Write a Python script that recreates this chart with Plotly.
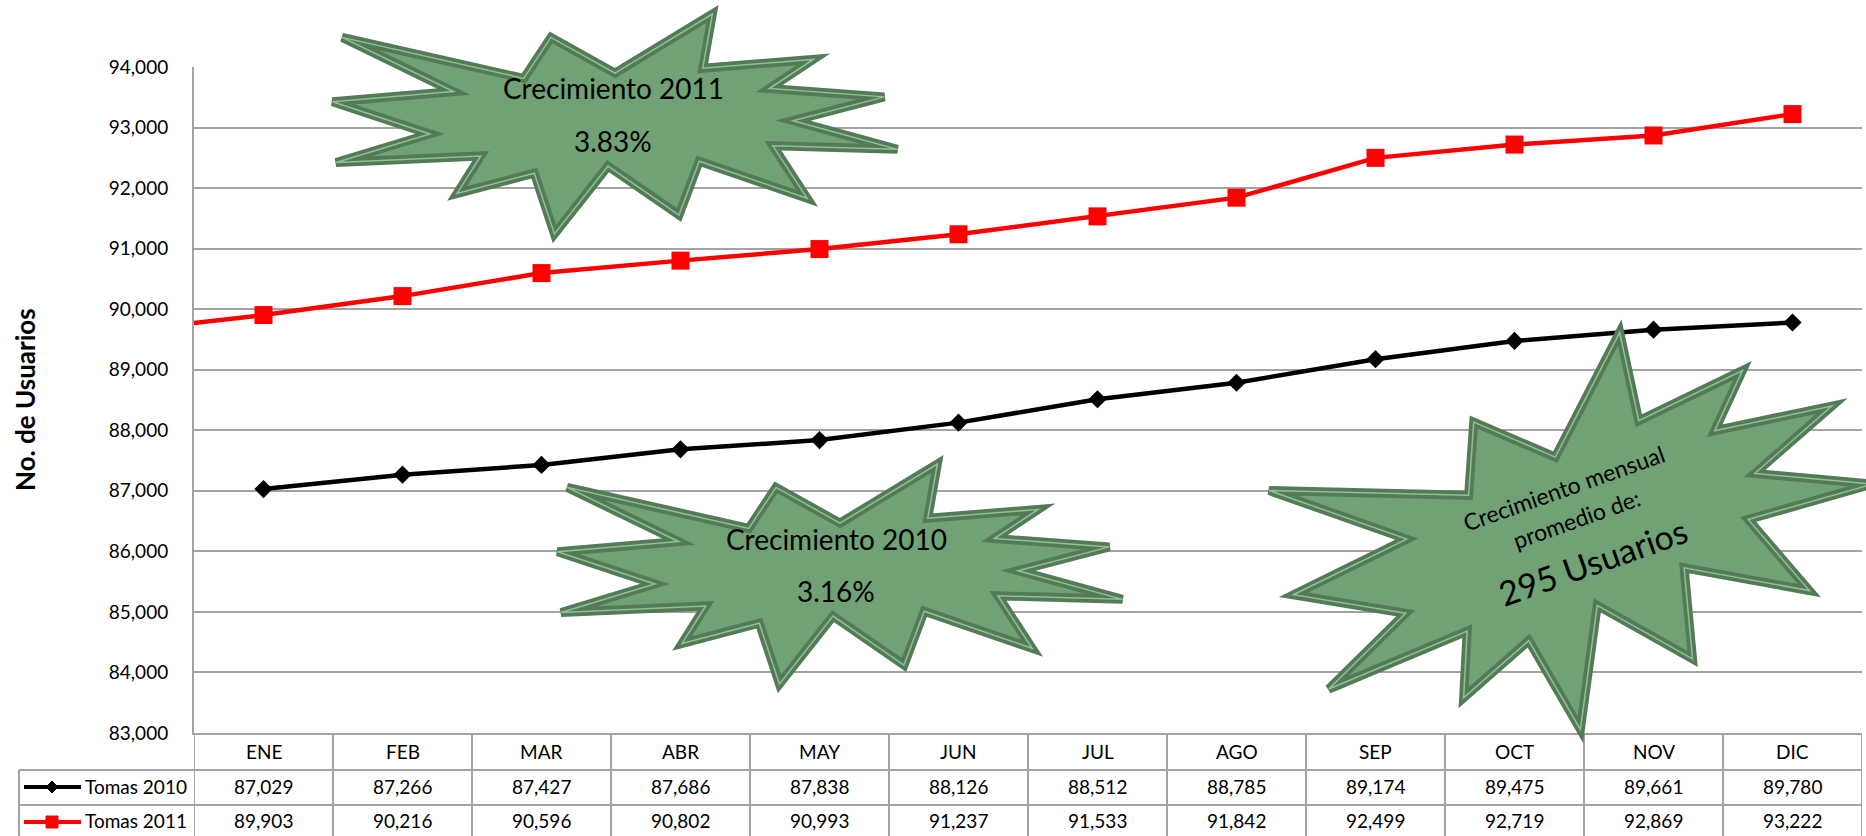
import numpy as np
import plotly.graph_objects as go

# data
months = ["ENE", "FEB", "MAR", "ABR", "MAY", "JUN", "JUL", "AGO", "SEP", "OCT", "NOV", "DIC"]
tomas_2010 = [87029, 87266, 87427, 87686, 87838, 88126, 88512, 88785, 89174, 89475, 89661, 89780]
tomas_2011 = [89903, 90216, 90596, 90802, 90993, 91237, 91533, 91842, 92499, 92719, 92869, 93222]
lead_in_2011 = 89640  # the 2011 line enters from the left edge of the plot
y_ticks = list(range(83000, 94001, 1000))
series_names = ["Tomas 2010", "Tomas 2011"]

FONT = "Lato, 'Open Sans', sans-serif"
GRID = "#A3A3A3"
RED = "#FF0000"
FILL = "#70A276"
EDGE = "#537B58"
EDGE_LIGHT = "#93BF96"

W, H = 1866, 836
L, R, T, B = 194, 1862, 67, 733  # plot area in pixels


def px(x):
    return (x - L) / (R - L)


def py(y):
    return (B - y) / (B - T)


# "Explosion 1" outline (office preset shape, 21600 units)
SEAL = [(10800, 5800), (14522, 0), (14155, 5325), (18380, 4457), (16702, 7315),
        (21097, 8137), (17607, 10475), (21600, 13290), (16837, 12942), (18145, 18095),
        (14020, 14457), (13247, 19737), (10532, 14935), (8485, 21600), (7715, 15627),
        (4762, 17617), (5667, 13937), (135, 14587), (3722, 11775), (0, 8615),
        (4627, 7617), (370, 2295), (7312, 6320), (8352, 2295)]


def burst_path(cx, cy, w, h, angle=0):
    a = np.radians(angle)
    pts = []
    for sx, sy in SEAL:
        dx = (sx / 21600 - 0.5) * w
        dy = (sy / 21600 - 0.5) * h
        rx = dx * np.cos(a) + dy * np.sin(a)
        ry = -dx * np.sin(a) + dy * np.cos(a)
        pts.append((px(cx + rx), py(cy + ry)))
    return "M " + " L ".join(f"{x:.5f},{y:.5f}" for x, y in pts) + " Z"


fig = go.Figure()
fig.add_trace(go.Scatter(
    x=list(range(len(months))), y=tomas_2010, mode="lines+markers", name=series_names[0],
    line=dict(color="black", width=4.5),
    marker=dict(symbol="diamond", size=14, color="black")))
fig.add_trace(go.Scatter(
    x=[-1] + list(range(len(months))), y=[lead_in_2011] + tomas_2011,
    mode="lines+markers", name=series_names[1],
    line=dict(color=RED, width=4.5),
    marker=dict(symbol="square", size=18, color=RED)))

shapes = []
# table grid
for yy in (770, 805):
    shapes.append(dict(type="line", xref="paper", yref="paper", x0=px(19), x1=1,
                       y0=py(yy), y1=py(yy), line=dict(color=GRID, width=2), layer="above"))
for k in range(len(months) + 1):
    shapes.append(dict(type="line", xref="x", yref="paper", x0=k - 0.5, x1=k - 0.5,
                       y0=0, y1=py(845), line=dict(color=GRID, width=2), layer="above"))
shapes.append(dict(type="line", xref="paper", yref="paper", x0=px(19), x1=px(19),
                   y0=py(770), y1=py(845), line=dict(color=GRID, width=2), layer="above"))

# legend keys inside the table
for yy, col, sym in ((787, "black", "diamond"), (822, RED, "square")):
    shapes.append(dict(type="line", xref="paper", yref="paper", x0=px(24), x1=px(81),
                       y0=py(yy), y1=py(yy), line=dict(color=col, width=4), layer="above"))
    d = 6
    if sym == "diamond":
        path = (f"M {px(52-d)},{py(yy)} L {px(52)},{py(yy-d)} L {px(52+d)},{py(yy)} "
                f"L {px(52)},{py(yy+d)} Z")
    else:
        path = (f"M {px(52-d)},{py(yy-d)} L {px(52+d)},{py(yy-d)} L {px(52+d)},{py(yy+d)} "
                f"L {px(52-d)},{py(yy+d)} Z")
    shapes.append(dict(type="path", xref="paper", yref="paper", path=path,
                       fillcolor=col, line=dict(color=col, width=1), layer="above"))

# explosion callouts
for cx, cy, w, h, ang in ((615, 124, 565, 220, 0), (840, 574, 565, 220, 0),
                          (1582, 537, 584, 364, 18.5)):
    p = burst_path(cx, cy, w, h, ang)
    shapes.append(dict(type="path", xref="paper", yref="paper", path=p, fillcolor=FILL,
                       line=dict(color=EDGE, width=9), layer="above"))
    shapes.append(dict(type="path", xref="paper", yref="paper", path=p,
                       line=dict(color=EDGE_LIGHT, width=1.5), layer="above"))

ann = []
# table text
for i, m in enumerate(months):
    ann.append(dict(x=i, xref="x", y=py(751), text=m, font=dict(size=19)))
    ann.append(dict(x=i, xref="x", y=py(786), text=f"{tomas_2010[i]:,}", font=dict(size=19)))
    ann.append(dict(x=i, xref="x", y=py(820), text=f"{tomas_2011[i]:,}", font=dict(size=19)))
for name, yy in zip(series_names, (786, 820)):
    ann.append(dict(x=px(83), xanchor="left", y=py(yy), text=name, font=dict(size=19)))

# axis title
ann.append(dict(x=px(25), y=0.5, text="<b>No. de Usuarios</b>", textangle=-90,
                font=dict(size=26)))

# callout text
ann += [
    dict(x=px(613), y=py(88), text="Crecimiento 2011", font=dict(size=28)),
    dict(x=px(613), y=py(141), text="3.83%", font=dict(size=28)),
    dict(x=px(836), y=py(539), text="Crecimiento 2010", font=dict(size=28)),
    dict(x=px(836), y=py(591), text="3.16%", font=dict(size=28)),
    dict(x=px(1564), y=py(488), text="Crecimiento mensual", font=dict(size=23), textangle=-19.5),
    dict(x=px(1576), y=py(519), text="promedio de:", font=dict(size=23), textangle=-19.5),
    dict(x=px(1592), y=py(561), text="295 Usuarios", font=dict(size=34), textangle=-19.5),
]
for a in ann:
    a.setdefault("xref", "paper")
    a.setdefault("xanchor", "center")
    a.update(yref="paper", yanchor="middle", showarrow=False)

fig.update_layout(
    width=W, height=H,
    margin=dict(l=L, r=W - R, t=T, b=H - B, pad=0),
    plot_bgcolor="white", paper_bgcolor="white",
    showlegend=False,
    font=dict(family=FONT, color="black"),
    shapes=shapes, annotations=ann,
)
fig.update_xaxes(range=[-0.5, 11.5], showticklabels=False, showgrid=False, zeroline=False,
                 showline=True, linecolor=GRID, linewidth=2)
fig.update_yaxes(range=[83000, 94000], tickvals=y_ticks, tickformat=",d", showgrid=True,
                 gridcolor=GRID, gridwidth=2, showline=True, linecolor=GRID, linewidth=2,
                 zeroline=False, tickfont=dict(size=19), ticks="", ticklabelstandoff=20)

fig.write_html("out.html", config={"displayModeBar": False},
               post_script="document.body.style.margin='0';")
